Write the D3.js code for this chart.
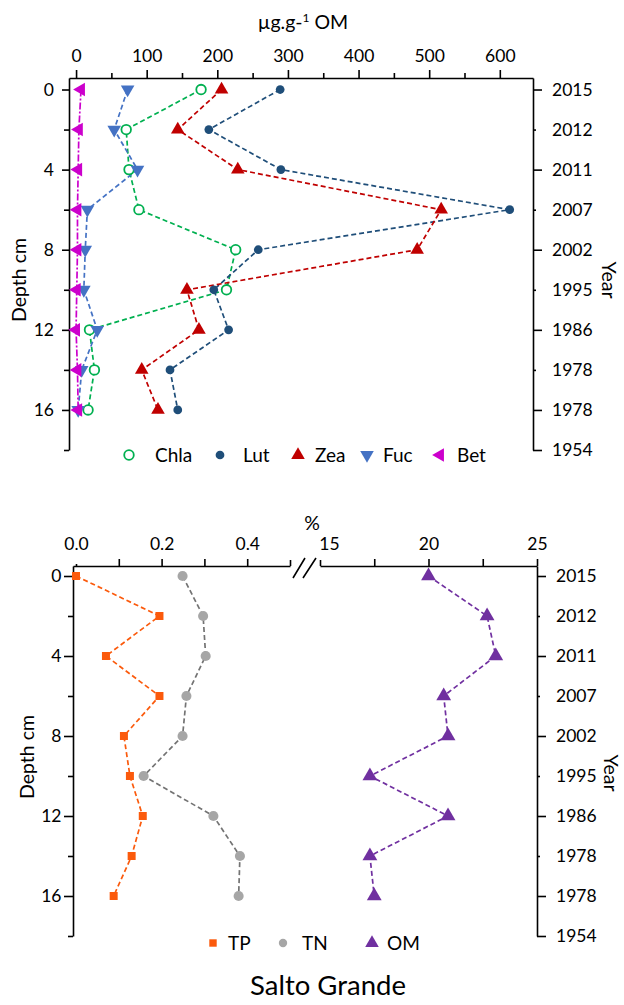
<!DOCTYPE html>
<html>
<head>
<meta charset="utf-8">
<script src="https://cdn.jsdelivr.net/npm/d3@7"></script>
<style>
body { margin: 0; background: #fff; }
text { font-family: Lato, sans-serif; fill: #000; }
</style>
</head>
<body>
<script>
// sample depths (cm) and the dated years on the right-hand axis
var depths = [0, 2, 4, 6, 8, 10, 12, 14, 16];
var yearTicks = [0, 2, 4, 6, 8, 10, 12, 14, 16, 18];
var years = ["2015", "2012", "2011", "2007", "2002", "1995", "1986", "1978", "1978", "1954"];

// pigments, ug/g OM
var chla = [177, 71, 75, 89, 226, 213, 19, 26, 17];
var lut = [289, 188, 290, 614, 258, 195, 216, 133, 144];
var zea = [206, 144, 229, 517, 483, 157, 174, 93, 116];
var fuc = [73, 54, 87, 16, 13, 11, 30, 8, 3];
var bet = [7, 4, 3, 2, 2, 1, 0, 2, 3];

// nutrients, %
var tp = [0.0, 0.195, 0.07, 0.195, 0.112, 0.126, 0.156, 0.13, 0.088];
var tn = [0.249, 0.297, 0.303, 0.258, 0.249, 0.158, 0.321, 0.383, 0.38];
var om = [20.0, 22.7, 23.1, 20.7, 20.9, 17.3, 20.9, 17.3, 17.5];

var fs = 17.5;

var svg = d3.select("body").append("svg")
    .attr("width", 624)
    .attr("height", 1005);

var tri = d3.symbolTriangle;

var pigments = [
    { name: "Chla", values: chla, color: "#00b050", sym: d3.symbolCircle, size: 72, rot: 0, open: true, dash: "5,3" },
    { name: "Lut", values: lut, color: "#1f4e79", sym: d3.symbolCircle, size: 60, rot: 0, dash: "5,3" },
    { name: "Zea", values: zea, color: "#c00000", sym: tri, size: 80, rot: 0, dash: "5,3" },
    { name: "Fuc", values: fuc, color: "#4472c4", sym: tri, size: 80, rot: 180, dash: "5,3" },
    { name: "Bet", values: bet, color: "#cc00cc", sym: tri, size: 80, rot: -90, dash: "7,2,2,2" }
];
var nutrients = [
    { name: "TP", values: tp, color: "#fb5a0c", line: "#fb5a0c", sym: d3.symbolSquare, size: 64, rot: 0, side: "L" },
    { name: "TN", values: tn, color: "#a6a6a6", line: "#737373", sym: d3.symbolCircle, size: 80, rot: 0, side: "L" },
    { name: "OM", values: om, color: "#7030a0", line: "#7030a0", sym: tri, size: 95, rot: 0, side: "R" }
];

function depthLeft(y, x0, pad, majorLen) {
    var ax = d3.axisLeft(y)
        .tickValues(yearTicks)
        .tickSize(majorLen)
        .tickSizeOuter(0)
        .tickPadding(pad)
        .tickFormat(function (d) { return d % 4 === 0 && d < 18 ? d : ""; });
    var g = svg.append("g").attr("transform", "translate(" + x0 + ",0)").call(ax);
    g.selectAll(".tick line").attr("x2", function (d) { return d % 4 === 0 ? -majorLen : -5; });
    return g;
}

function yearRight(y, x0) {
    var ax = d3.axisRight(y)
        .tickValues(yearTicks)
        .tickSize(9)
        .tickSizeOuter(0)
        .tickPadding(10)
        .tickFormat(function (d, i) { return years[i]; });
    var g = svg.append("g").attr("transform", "translate(" + x0 + ",0)").call(ax);
    g.selectAll(".tick line").attr("x2", function (d) { return (d % 4 === 0 || d === 18) ? 9 : 3; });
    return g;
}

function styleAxis(g) {
    g.selectAll("text").attr("font-size", fs).attr("font-family", "Lato, sans-serif").attr("fill", "#000");
    g.selectAll("path.domain, line").attr("stroke", "#000").attr("stroke-width", 1.6);
}

// ---------- top panel: pigments ----------
var x1 = d3.scaleLinear().domain([-10, 647]).range([69, 533]);
var y1 = d3.scaleLinear().domain([-0.575, 18]).range([78, 450]);

var gx1 = svg.append("g").attr("transform", "translate(0,78)")
    .call(d3.axisTop(x1)
        .tickValues(d3.range(0, 601, 50))
        .tickSize(8)
        .tickSizeOuter(0)
        .tickPadding(8.5)
        .tickFormat(function (d) { return d % 100 === 0 ? d : ""; }));
gx1.selectAll(".tick line").attr("y2", function (d) { return d % 100 === 0 ? -8 : -5; });
styleAxis(gx1);

styleAxis(depthLeft(y1, 69, 8, 7));
styleAxis(yearRight(y1, 533));

svg.append("text").attr("x", 303).attr("y", 29).attr("text-anchor", "middle")
    .attr("font-size", 19.5)
    .html('µg.g-<tspan dy="-7" font-size="12">1</tspan><tspan dy="7"> OM</tspan>');

svg.append("text").attr("transform", "translate(19,280) rotate(-90)")
    .attr("text-anchor", "middle").attr("dy", "0.35em").attr("font-size", 19.5).text("Depth cm");
svg.append("text").attr("transform", "translate(609,280) rotate(90)")
    .attr("text-anchor", "middle").attr("dy", "0.35em").attr("font-size", 19.5).text("Year");

var line1 = d3.line()
    .x(function (d) { return x1(d.v); })
    .y(function (d) { return y1(d.d); });

pigments.forEach(function (p) {
    var pts = depths.map(function (d, i) { return { d: d, v: p.values[i] }; });
    svg.append("path").datum(pts)
        .attr("d", line1)
        .attr("fill", "none")
        .attr("stroke", p.color)
        .attr("stroke-width", 1.7)
        .attr("stroke-dasharray", p.dash);
});
pigments.forEach(function (p) {
    svg.append("g").selectAll("path")
        .data(depths.map(function (d, i) { return { d: d, v: p.values[i] }; }))
        .enter().append("path")
        .attr("d", d3.symbol().type(p.sym).size(p.size))
        .attr("transform", function (d) {
            return "translate(" + x1(d.v) + "," + y1(d.d) + ") rotate(" + p.rot + ")";
        })
        .attr("fill", p.open ? "#fff" : p.color)
        .attr("stroke", p.color)
        .attr("stroke-width", p.open ? 1.8 : 0);
});

// legend (top)
var legTop = [[129, 155], [220, 243], [298, 315], [367, 383], [440, 457]];
var lt = svg.append("g").attr("class", "legend")
    .selectAll("g").data(pigments).enter().append("g");
lt.append("path")
    .attr("d", function (p) { return d3.symbol().type(p.sym).size(p.size)(); })
    .attr("transform", function (p, i) { return "translate(" + legTop[i][0] + ",455) rotate(" + p.rot + ")"; })
    .attr("fill", function (p) { return p.open ? "#fff" : p.color; })
    .attr("stroke", function (p) { return p.color; })
    .attr("stroke-width", function (p) { return p.open ? 1.8 : 0; });
lt.append("text")
    .attr("x", function (p, i) { return legTop[i][1]; })
    .attr("y", 455).attr("dy", "0.35em")
    .attr("font-size", 19)
    .text(function (p) { return p.name; });

// ---------- bottom panel: nutrients ----------
var xL = d3.scaleLinear().domain([-0.007, 0.5]).range([73, 290]);
var xR = d3.scaleLinear().domain([15, 25]).range([320, 537]);
var y2 = d3.scaleLinear().domain([-0.5, 18]).range([566, 936]);

var gxL = svg.append("g").attr("transform", "translate(0,566)")
    .call(d3.axisTop(xL)
        .tickValues([0, 0.1, 0.2, 0.3, 0.4, 0.5])
        .tickSize(7)
        .tickSizeOuter(0)
        .tickPadding(9.5)
        .tickFormat(function (d) { return (Math.round(d * 10) % 2 === 0 && d < 0.5) ? d3.format(".1f")(d) : ""; }));
gxL.selectAll(".tick line").attr("y2", function (d) { return d === 0 ? -2 : (d === 0.5 ? -6 : -7); });
styleAxis(gxL);

var gxR = svg.append("g").attr("transform", "translate(0,566)")
    .call(d3.axisTop(xR)
        .tickValues([15, 17.5, 20, 22.5, 25])
        .tickSize(7)
        .tickSizeOuter(0)
        .tickPadding(9.5)
        .tickFormat(function (d) { return d % 5 === 0 ? d : ""; }));
gxR.selectAll(".tick line").attr("y2", function (d) { return d === 15 ? -6 : -7; });
gxR.selectAll(".tick text").attr("dx", function (d) { return d === 15 ? 9 : 0; });
styleAxis(gxR);

// axis break marks
var bx0 = xL.range()[1], bx1 = xR.range()[0];
svg.append("path")
    .attr("d", "M" + (bx0 + 3) + ",578L" + (bx0 + 15) + ",558M" + (bx0 + 13) + ",578L" + (bx0 + 26) + ",558")
    .attr("stroke", "#000").attr("stroke-width", 1.6).attr("fill", "none");

styleAxis(depthLeft(y2, 73, 2.5, 9));
styleAxis(yearRight(y2, 537));

svg.append("text").attr("x", 312).attr("y", 530).attr("text-anchor", "middle")
    .attr("font-size", 19.5).text("%");
svg.append("text").attr("transform", "translate(27,757) rotate(-90)")
    .attr("text-anchor", "middle").attr("dy", "0.35em").attr("font-size", 19.5).text("Depth cm");
svg.append("text").attr("transform", "translate(611,773) rotate(90)")
    .attr("text-anchor", "middle").attr("dy", "0.35em").attr("font-size", 19.5).text("Year");

nutrients.forEach(function (n) {
    var xs = n.side === "L" ? xL : xR;
    var pts = depths.map(function (d, i) { return { d: d, v: n.values[i] }; });
    svg.append("path").datum(pts)
        .attr("d", d3.line().x(function (d) { return xs(d.v); }).y(function (d) { return y2(d.d); }))
        .attr("fill", "none")
        .attr("stroke", n.line)
        .attr("stroke-width", 1.7)
        .attr("stroke-dasharray", "5,3");
});
nutrients.forEach(function (n) {
    var xs = n.side === "L" ? xL : xR;
    svg.append("g").selectAll("path")
        .data(depths.map(function (d, i) { return { d: d, v: n.values[i] }; }))
        .enter().append("path")
        .attr("d", d3.symbol().type(n.sym).size(n.size))
        .attr("transform", function (d) { return "translate(" + xs(d.v) + "," + y2(d.d) + ")"; })
        .attr("fill", n.color);
});

// legend (bottom)
var legBot = [[213, 228], [283, 302], [372, 387]];
var lb = svg.append("g").attr("class", "legend")
    .selectAll("g").data(nutrients).enter().append("g");
lb.append("path")
    .attr("d", function (n) { return d3.symbol().type(n.sym).size(n.sym === tri ? 80 : 55)(); })
    .attr("transform", function (n, i) { return "translate(" + legBot[i][0] + ",943)"; })
    .attr("fill", function (n) { return n.color; });
lb.append("text")
    .attr("x", function (n, i) { return legBot[i][1]; })
    .attr("y", 943).attr("dy", "0.35em")
    .attr("font-size", 19)
    .text(function (n) { return n.name; });

svg.append("text").attr("x", 328).attr("y", 995).attr("text-anchor", "middle")
    .attr("font-size", 27.5).text("Salto Grande");
</script>
</body>
</html>
